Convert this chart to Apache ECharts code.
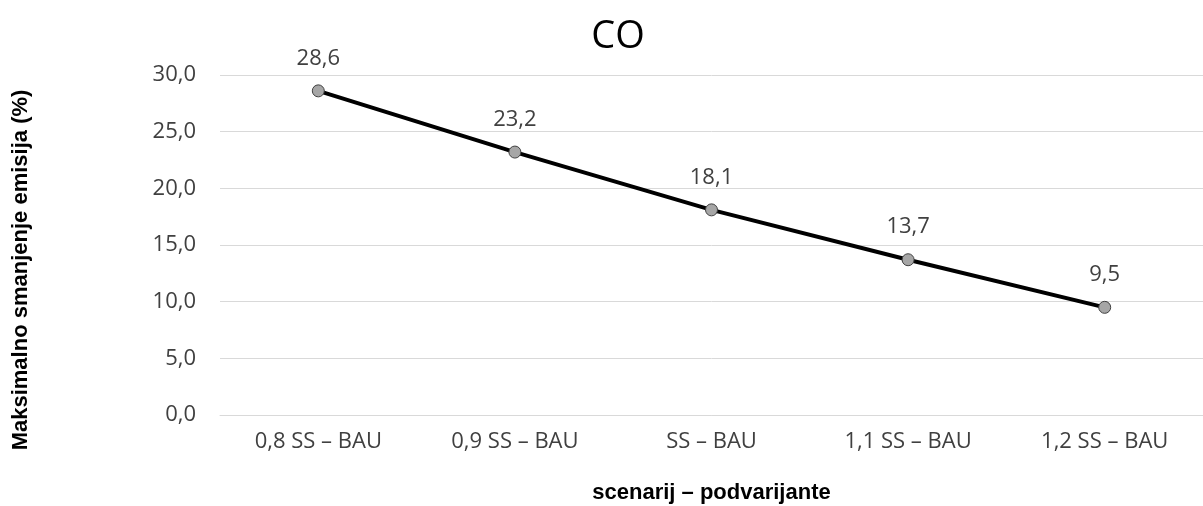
<!DOCTYPE html>
<html>
<head>
<meta charset="utf-8">
<script src="https://cdn.jsdelivr.net/npm/echarts@6/dist/echarts.min.js"></script>
<style>
  html, body { margin: 0; padding: 0; background: #fff; }
  #chart { width: 1203px; height: 506px; }
</style>
</head>
<body>
<div id="chart"></div>
<script>
const categories = ["0,8 SS – BAU", "0,9 SS – BAU", "SS – BAU", "1,1 SS – BAU", "1,2 SS – BAU"];
const values = [28.6, 23.2, 18.1, 13.7, 9.5];

const fmt = v => v.toFixed(1).replace(".", ",");
const font = "'Open Sans', 'Liberation Sans', sans-serif";
const boldFont = "'Liberation Sans', Arial, sans-serif";

let myChart = echarts.init(document.getElementById("chart"));

let option = {
  animation: false,
  title: {
    text: "CO",
    left: 613,
    top: 13,
    textAlign: "center",
    textStyle: { color: "#000", fontSize: 38, fontWeight: "normal", fontFamily: font }
  },
  grid: { left: 220, right: 0, top: 75, bottom: 91, containLabel: false, outerBoundsMode: "none" },
  xAxis: {
    type: "category",
    data: categories,
    name: "scenarij – podvarijante",
    nameLocation: "middle",
    nameGap: 67,
    nameTextStyle: { color: "#000", fontSize: 22, fontWeight: "bold", fontFamily: boldFont },
    axisLine: { lineStyle: { color: "#d9d9d9", width: 1 } },
    axisTick: { show: false },
    axisLabel: { color: "#404040", fontSize: 22, margin: 16, fontFamily: font }
  },
  yAxis: {
    type: "value",
    min: 0,
    max: 30,
    interval: 5,
    name: "Maksimalno smanjenje emisija (%)",
    nameLocation: "middle",
    nameRotate: 90,
    nameGap: 188,
    nameTextStyle: { color: "#000", fontSize: 22, fontWeight: "bold", fontFamily: boldFont, padding: [0, 50, 0, 0] },
    axisLine: { show: false },
    axisTick: { show: false },
    splitLine: { lineStyle: { color: "#d9d9d9", width: 1 } },
    axisLabel: { color: "#404040", fontSize: 22, margin: 24, fontFamily: font, formatter: v => fmt(v) }
  },
  series: [
    {
      type: "line",
      data: values,
      symbol: "circle",
      symbolSize: 12,
      lineStyle: { color: "#000", width: 4 },
      itemStyle: { color: "#a6a6a6", borderColor: "#404040", borderWidth: 1 },
      label: {
        show: true,
        position: "top",
        distance: 15,
        color: "#404040",
        fontSize: 22,
        fontFamily: font,
        formatter: p => fmt(p.value)
      }
    }
  ]
};
myChart.setOption(option);
window.addEventListener("resize", () => myChart.resize(), false);
</script>
</body>
</html>
